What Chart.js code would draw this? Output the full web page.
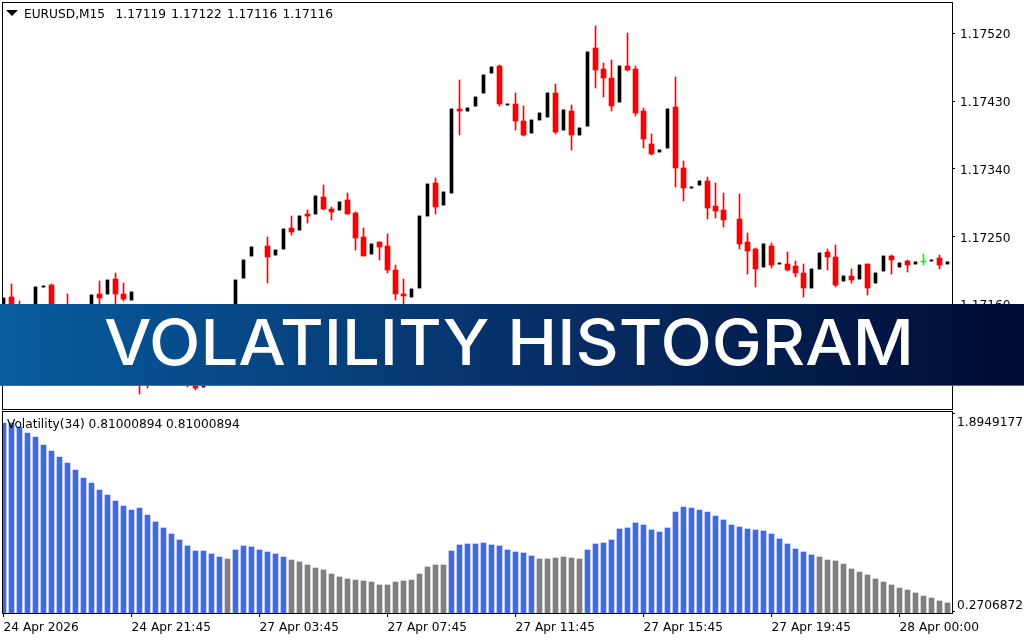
<!DOCTYPE html>
<html>
<head>
<meta charset="utf-8">
<title>Volatility Histogram</title>
<script src="https://cdn.jsdelivr.net/npm/chart.js@4/dist/chart.umd.min.js"></script>
<style>
  html, body { margin: 0; background: #fff; width: 1024px; height: 640px; overflow: hidden; }
  canvas { position: absolute; left: 0; }
  #priceChart { top: 0; }
  #volChart { top: 410px; }
  .label { position: absolute; font: 12.2px "DejaVu Sans", sans-serif; color: #000; white-space: pre; line-height: 14px; }
  #arrow { position: absolute; left: 6px; top: 10px; width: 0; height: 0;
           border-left: 6px solid transparent; border-right: 6px solid transparent; border-top: 6px solid #000; }
  #banner { position: absolute; left: 0; top: 304px; width: 1024px; height: 82px; box-sizing: border-box;
            background: linear-gradient(90deg, #075c9f 0%, #07316a 50%, #000b33 100%);
            border-bottom: 1px solid #3f6f9f; }
  #banner span { position: absolute; left: 104px; top: 0; font: 500 63px/76px Inter, sans-serif; color: #fff;
                 white-space: pre; transform-origin: left center; transform: scaleX(1.063); }
</style>
</head>
<body>
<canvas id="priceChart" width="1024" height="410"></canvas>
<canvas id="volChart" width="1024" height="230"></canvas>
<div id="arrow"></div>
<div class="label" style="left:24px;top:7px;word-spacing:1.4px">EURUSD,M15  1.17119 1.17122 1.17116 1.17116</div>
<div class="label" style="left:7px;top:417px">Volatility(34) 0.81000894 0.81000894</div>
<div id="banner"><span>VOLATILITY HISTOGRAM</span></div>
<script>
// M15 candles, null where no bar can be seen in the picture
const opens = [
  1.17150,1.17169,1.17152,1.17142,1.17153,1.17183,1.17185,1.17126,1.17150,1.17112,
  1.17132,1.17152,1.17173,1.17173,1.17193,1.17173,1.17165,1.17157,1.17112,1.17079,
  1.17099,1.17112,1.17092,1.17072,1.17059,1.17050,1.17070,1.17099,1.17132,1.17159,
  1.17195,1.17224,null,1.17237,1.17225,1.17233,1.17261,1.17259,1.17280,1.17280,
  1.17302,1.17287,1.17285,1.17298,1.17281,1.17249,1.17227,1.17243,1.17237,1.17205,
  1.17173,1.17169,1.17181,1.17277,1.17321,1.17292,1.17308,1.17419,1.17417,1.17423,
  1.17441,1.17467,1.17477,1.17425,1.17426,1.17403,1.17388,1.17405,1.17409,1.17441,
  1.17391,1.17417,1.17385,1.17397,1.17500,1.17473,1.17461,1.17429,1.17477,1.17473,
  1.17417,1.17373,1.17362,1.17368,1.17422,1.17341,1.17314,1.17318,1.17324,1.17290,
  1.17285,null,1.17273,1.17243,1.17233,1.17209,1.17237,1.17213,1.17213,1.17211,
  1.17201,1.17181,1.17207,1.17229,1.17223,1.17191,1.17197,1.17193,1.17213,1.17188,
  1.17204,1.17224,1.17209,1.17217,1.17213,1.17216,1.17217,1.17221,1.17213
];
const highs = [
  1.17168,1.17187,1.17164,1.17157,1.17183,1.17184,1.17187,1.17132,1.17173,1.17132,
  1.17152,1.17172,1.17191,1.17192,1.17201,1.17188,1.17176,1.17159,1.17126,1.17099,
  1.17112,1.17119,1.17099,1.17079,1.17070,1.17070,1.17099,1.17132,1.17159,1.17192,
  1.17219,1.17236,null,1.17249,1.17232,1.17260,1.17277,1.17277,1.17285,1.17304,
  1.17318,1.17289,1.17296,1.17308,1.17283,1.17261,1.17240,1.17243,1.17253,1.17212,
  1.17193,1.17180,1.17277,1.17320,1.17328,1.17309,1.17419,1.17458,1.17421,1.17435,
  1.17465,1.17475,1.17478,1.17426,1.17441,1.17423,1.17405,1.17414,1.17441,1.17453,
  1.17418,1.17425,1.17394,1.17495,1.17530,1.17481,1.17485,1.17477,1.17520,1.17477,
  1.17421,1.17386,1.17365,1.17419,1.17462,1.17350,1.17316,1.17324,1.17329,1.17321,
  1.17308,null,1.17306,1.17255,1.17235,1.17240,1.17241,1.17215,1.17229,1.17217,
  1.17213,1.17207,1.17228,1.17233,1.17239,1.17197,1.17207,1.17212,1.17213,1.17201,
  1.17224,1.17225,1.17215,1.17219,1.17216,1.17227,1.17219,1.17225,1.17216
];
const lows = [
  1.17150,1.17144,1.17136,1.17142,1.17153,1.17183,1.17119,1.17099,1.17119,1.17112,
  1.17132,1.17152,1.17150,1.17173,1.17144,1.17164,1.17165,1.17040,1.17048,1.17079,
  1.17099,1.17086,1.17066,1.17050,1.17046,1.17050,1.17070,1.17099,1.17132,1.17159,
  1.17195,1.17224,null,1.17188,1.17225,1.17233,1.17252,1.17259,1.17268,1.17280,
  1.17285,1.17272,1.17285,1.17280,1.17232,1.17224,1.17227,1.17219,1.17201,1.17165,
  1.17139,1.17169,1.17181,1.17277,1.17280,1.17292,1.17308,1.17385,1.17417,1.17423,
  1.17441,1.17467,1.17423,1.17425,1.17391,1.17384,1.17388,1.17405,1.17409,1.17386,
  1.17391,1.17365,1.17385,1.17397,1.17447,1.17435,1.17417,1.17429,1.17470,1.17410,
  1.17368,1.17358,1.17362,1.17368,1.17316,1.17297,1.17314,1.17318,1.17273,1.17275,
  1.17263,null,1.17233,1.17200,1.17183,1.17209,1.17208,1.17213,1.17204,1.17196,
  1.17169,1.17181,1.17207,1.17205,1.17183,1.17191,1.17188,1.17193,1.17172,1.17188,
  1.17204,1.17200,1.17209,1.17203,1.17213,1.17212,1.17217,1.17207,1.17213
];
const closes = [
  1.17168,1.17152,1.17142,1.17157,1.17183,1.17184,1.17126,1.17106,1.17132,1.17132,
  1.17152,1.17172,1.17168,1.17192,1.17173,1.17167,1.17176,1.17112,1.17079,1.17099,
  1.17112,1.17092,1.17072,1.17059,1.17048,1.17070,1.17099,1.17132,1.17159,1.17192,
  1.17219,1.17236,null,1.17223,1.17232,1.17260,1.17256,1.17277,1.17277,1.17304,
  1.17287,1.17283,1.17296,1.17280,1.17248,1.17224,1.17240,1.17236,1.17205,1.17173,
  1.17171,1.17180,1.17277,1.17320,1.17289,1.17309,1.17419,1.17417,1.17421,1.17435,
  1.17465,1.17475,1.17426,1.17426,1.17403,1.17385,1.17405,1.17414,1.17441,1.17389,
  1.17418,1.17385,1.17394,1.17495,1.17471,1.17461,1.17423,1.17477,1.17471,1.17414,
  1.17380,1.17360,1.17365,1.17419,1.17341,1.17314,1.17316,1.17324,1.17288,1.17284,
  1.17272,null,1.17240,1.17231,1.17207,1.17240,1.17212,1.17215,1.17205,1.17201,
  1.17181,1.17207,1.17228,1.17223,1.17185,1.17197,1.17192,1.17212,1.17181,1.17201,
  1.17224,1.17219,1.17215,1.17212,1.17216,1.17216,1.17219,1.17212,1.17216
];

// Volatility(34) histogram, one value per candle
const volatility = [
  1.813,1.813,1.783,1.732,1.699,1.634,1.585,1.536,1.487,1.430,
  1.364,1.324,1.266,1.225,1.176,1.136,1.103,1.119,1.062,1.005,
  0.956,0.907,0.858,0.809,0.768,0.768,0.744,0.719,0.703,0.777,
  0.809,0.801,0.777,0.760,0.744,0.719,0.695,0.679,0.654,0.630,
  0.614,0.581,0.556,0.540,0.532,0.524,0.515,0.491,0.491,0.515,
  0.524,0.532,0.581,0.638,0.654,0.654,0.768,0.817,0.826,0.826,
  0.834,0.817,0.809,0.777,0.760,0.752,0.728,0.703,0.703,0.711,
  0.719,0.711,0.703,0.777,0.826,0.834,0.858,0.948,0.956,0.997,
  0.981,0.940,0.924,0.956,1.087,1.128,1.119,1.103,1.087,1.054,
  1.021,0.981,0.964,0.948,0.940,0.932,0.907,0.866,0.826,0.785,
  0.760,0.736,0.719,0.695,0.687,0.662,0.622,0.597,0.573,0.540,
  0.515,0.491,0.467,0.450,0.426,0.401,0.385,0.361,0.344
];
// first and last bar of each gray stretch
const grayRanges = [[28, 28], [36, 55], [67, 72], [102, 118]];

const priceTicks = [1.1752, 1.1743, 1.1734, 1.1725, 1.1716, 1.1707];
const volTicks = [1.8949177, 0.2706872];
const timeTickBars = [0, 16, 32, 48, 64, 80, 96, 112];
const timeTickLabels = ['24 Apr 2026', '24 Apr 21:45', '27 Apr 03:45', '27 Apr 07:45',
  '27 Apr 11:45', '27 Apr 15:45', '27 Apr 19:45', '28 Apr 00:00'];

const AXIS_FONT = { family: '"DejaVu Sans", sans-serif', size: 12.2 };
const bars = opens.map((o, i) => i).filter(i => opens[i] !== null);
const isGray = i => grayRanges.some(r => i >= r[0] && i <= r[1]);

// black frame round the plot area
const framePlugin = {
  id: 'frame',
  afterDraw(chart) {
    const a = chart.chartArea;
    const ctx = chart.ctx;
    ctx.save();
    ctx.strokeStyle = '#000';
    ctx.lineWidth = 1;
    ctx.strokeRect(a.left - 0.5, a.top - 0.5, a.right - a.left + 1, a.bottom - a.top + 1);
    ctx.restore();
  }
};

// the terminal draws on whole pixels, so round the bar ends the scale computed
const snapPlugin = {
  id: 'snap',
  beforeDatasetsDraw(chart) {
    chart.getSortedVisibleDatasetMetas().forEach(meta => {
      meta.data.forEach(el => {
        el.y = Math.round(el.y);
        el.base = Math.round(el.base);
        if (el.y === el.base) el.base = el.y + 1;
      });
    });
  }
};

function fitAxis(scale, size) {
  if (scale.axis === 'y') scale.width = size; else scale.height = size;
  scale.paddingTop = scale.paddingBottom = scale.paddingLeft = scale.paddingRight = 0;
}

const barX = {
  type: 'linear',
  offset: false,
  min: -0.0625,
  max: 118.5625
};

new Chart(document.getElementById('priceChart').getContext('2d'), {
  type: 'bar',
  data: {
    datasets: [
      {
        label: 'up',
        data: bars.filter(i => closes[i] > opens[i]).map(i => ({ x: i, y: [opens[i], closes[i]] })),
        backgroundColor: '#000',
        barThickness: 3,
        minBarLength: 1
      },
      {
        label: 'down',
        data: bars.filter(i => closes[i] < opens[i]).map(i => ({ x: i, y: [closes[i], opens[i]] })),
        backgroundColor: '#ff0000',
        barThickness: 5,
        minBarLength: 1
      },
      {
        label: 'doji',
        data: bars.filter(i => closes[i] === opens[i]).map(i => ({ x: i, y: [closes[i], opens[i]] })),
        backgroundColor: '#00ff00',
        barThickness: 5,
        minBarLength: 1
      },
      {
        label: 'wick',
        data: bars.map(i => ({ x: i, y: [lows[i], highs[i]] })),
        backgroundColor: bars.map(i => closes[i] > opens[i] ? '#000' : closes[i] === opens[i] ? '#00ff00' : '#ff0000'),
        barThickness: 1
      }
    ]
  },
  options: {
    responsive: false,
    animation: false,
    datasets: { bar: { grouped: false } },
    layout: { padding: { left: 3, top: 3, right: 0, bottom: 1 } },
    plugins: { legend: { display: false }, tooltip: { enabled: false } },
    scales: {
      x: { ...barX, display: false },
      y: {
        position: 'right',
        min: 1.170206,
        max: 1.175603,
        afterBuildTicks: s => { s.ticks = priceTicks.map(v => ({ value: v })); },
        afterFit: s => fitAxis(s, 72),
        border: { display: false },
        grid: { drawOnChartArea: false, tickLength: 3, tickColor: '#000' },
        ticks: {
          color: '#000', font: { ...AXIS_FONT, lineHeight: '4px' }, padding: 5,
          // blank first line drops the label 2px to sit level with its tick
          callback: v => ['', v.toFixed(5)]
        }
      }
    }
  },
  plugins: [snapPlugin, framePlugin]
});

new Chart(document.getElementById('volChart').getContext('2d'), {
  type: 'bar',
  data: {
    datasets: [{
      label: 'Volatility(34)',
      data: volatility.map((v, i) => ({ x: i, y: v })),
      backgroundColor: volatility.map((v, i) => isGray(i) ? '#808080' : '#4169e1'),
      barThickness: 5
    }]
  },
  options: {
    responsive: false,
    animation: false,
    layout: { padding: { left: 3, top: 2, right: 0, bottom: 0 } },
    plugins: { legend: { display: false }, tooltip: { enabled: false } },
    scales: {
      x: {
        ...barX,
        afterBuildTicks: s => { s.ticks = timeTickBars.map(v => ({ value: v })); },
        afterFit: s => fitAxis(s, 27),
        border: { display: false },
        grid: { offset: false, drawOnChartArea: false, tickLength: 4, tickColor: '#000' },
        ticks: {
          color: '#000', font: AXIS_FONT, padding: 4, align: 'start', maxRotation: 0, autoSkip: false,
          callback: v => timeTickLabels[timeTickBars.indexOf(v)]
        }
      },
      y: {
        position: 'right',
        min: 0.2625,
        max: 1.9031,
        afterBuildTicks: s => { s.ticks = volTicks.map(v => ({ value: v })); },
        afterFit: s => fitAxis(s, 72),
        border: { display: false },
        grid: { drawOnChartArea: false, tickLength: 3, tickColor: '#000' },
        ticks: {
          color: '#000', font: { ...AXIS_FONT, lineHeight: '6.5px' }, padding: 2,
          // label sits inside the pane, under the top tick and over the bottom one
          callback: v => v > 1 ? ['', '', '', v.toFixed(7)] : [v.toFixed(7), '', '']
        }
      }
    }
  },
  plugins: [snapPlugin, framePlugin]
});
</script>
</body>
</html>
